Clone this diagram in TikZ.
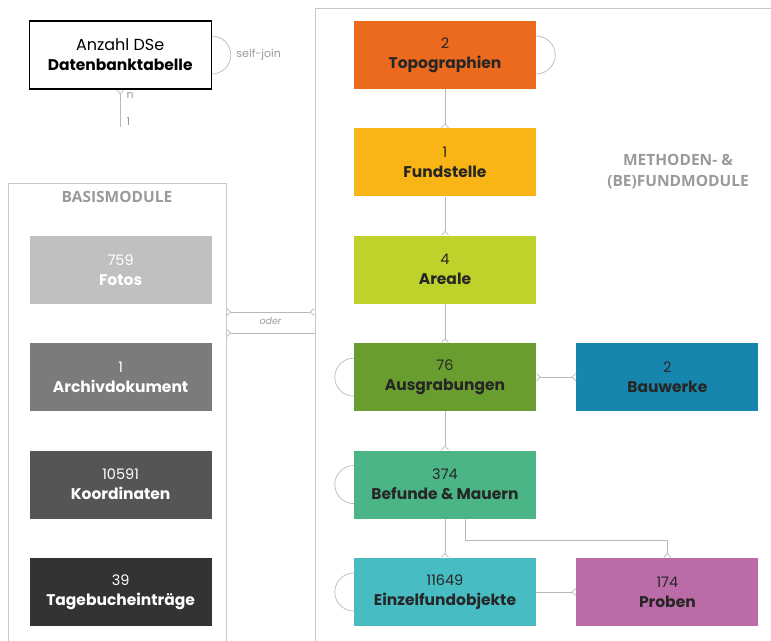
\documentclass[tikz,border=0pt]{standalone}
\usepackage{fontspec}
\setmainfont{Poppins}
\newfontfamily\headfont{Open Sans}
\usetikzlibrary{arrows.meta,positioning}
\definecolor{textdark}{HTML}{262626}
\definecolor{linegray}{HTML}{B8B8B8}
\definecolor{framegray}{HTML}{C8C8C8}
\definecolor{headgray}{HTML}{9A9A9A}
\definecolor{topocol}{HTML}{EC6A1E}
\definecolor{fundcol}{HTML}{F9B515}
\definecolor{arealcol}{HTML}{BED22B}
\definecolor{grabcol}{HTML}{6A9D2F}
\definecolor{baucol}{HTML}{1686AE}
\definecolor{befundcol}{HTML}{4BB586}
\definecolor{einzelcol}{HTML}{48BCC3}
\definecolor{probecol}{HTML}{BB6CA8}
\definecolor{fotocol}{HTML}{C1BFBF}
\definecolor{archivcol}{HTML}{7B7B7B}
\definecolor{koordcol}{HTML}{555555}
\definecolor{tagecol}{HTML}{333333}
\newcommand{\anzahl}[1]{{\fontsize{14.5}{20}\selectfont #1}}
\newcommand{\tabelle}[1]{{\fontsize{15.5}{20}\selectfont\bfseries #1}}
\tikzset{
	modul/.style={minimum width=182pt, minimum height=68pt, inner sep=0pt, align=center,
		text=textdark, font=\fontsize{15}{20}\selectfont},
	grey modul/.style={modul, text=white},
	container/.style={draw=framegray, line width=0.8pt, inner sep=0pt},
	link/.style={draw=linegray, line width=0.7pt},
	crowend/.style={-{Straight Barb[reversed,length=4pt,width=7pt]}},
	crowstart/.style={{Straight Barb[reversed,length=4pt,width=7pt]}-},
	crowboth/.style={{Straight Barb[reversed,length=4pt,width=7pt]}-{Straight Barb[reversed,length=4pt,width=7pt]}},
	heading/.style={font=\headfont\bfseries\fontsize{15.5}{21}\selectfont, text=headgray, align=center},
	small label/.style={font=\fontsize{11}{13}\selectfont, text=headgray},
}

\begin{document}
\begin{tikzpicture}[x=1pt, y=-1pt, node distance=39pt]
	\useasboundingbox (0,0) rectangle (771,640);
	\clip (0,0) rectangle (771,640);
	% module frames
	\node[container, minimum width=218pt, minimum height=517pt] (basis) at (117,441.5) {};
	\node[container, minimum width=475pt, minimum height=692pt] (methoden) at (552.5,354) {};
	\node[heading] (basistitel) at (117,197) {BASISMODULE};
	\node[heading] (methodentitel) at (678,172) {METHODEN- \&\\(BE)FUNDMODULE};
	% methods and findings
	\node[modul, fill=topocol] (topo) at (445,55) {\anzahl{2}\\\tabelle{Topographien}};
	\node[modul, fill=fundcol, below=of topo] (fund) {\anzahl{1}\\\tabelle{Fundstelle}};
	\node[modul, fill=arealcol, below=of fund] (areal) {\anzahl{4}\\\tabelle{Areale}};
	\node[modul, fill=grabcol, below=of areal] (grabung) {\anzahl{76}\\\tabelle{Ausgrabungen}};
	\node[modul, fill=baucol, right=40pt of grabung] (bau) {\anzahl{2}\\\tabelle{Bauwerke}};
	\node[modul, fill=befundcol, below=of grabung] (befund) {\anzahl{374}\\\tabelle{Befunde \& Mauern}};
	\node[modul, fill=einzelcol, below=of befund] (einzel) {\anzahl{11649}\\\tabelle{Einzelfundobjekte}};
	\node[modul, fill=probecol, right=40pt of einzel] (probe) {\anzahl{174}\\\tabelle{Proben}};
	% base modules
	\node[grey modul, fill=fotocol, left=142pt of areal] (foto) {\anzahl{759}\\\tabelle{Fotos}};
	\node[grey modul, fill=archivcol, below=of foto] (archiv) {\anzahl{1}\\\tabelle{Archivdokument}};
	\node[grey modul, fill=koordcol, below=of archiv] (koord) {\anzahl{10591}\\\tabelle{Koordinaten}};
	\node[grey modul, fill=tagecol, below=of koord] (tage) {\anzahl{39}\\\tabelle{Tagebucheinträge}};
	% legend
	\node[modul, fill=white, draw=black, line width=1.2pt, text=black, left=142pt of topo] (legende)
		{{\fontsize{16}{20}\selectfont Anzahl DSe}\\\tabelle{Datenbanktabelle}};
	\draw[link] ([yshift=19pt]legende.east) arc[start angle=90, end angle=-90, radius=19pt]
		node[small label, midway, right=2pt] (selfjoin) {self-join};
	\coordinate (legendefuss) at (legende.south |- 0,127);
	\draw[link, crowstart] (legende.south) -- (legendefuss);
	\node[small label, anchor=west] (n) at ([xshift=3pt, yshift=-6pt]legende.south) {n};
	\node[small label, anchor=west] (eins) at ([xshift=3pt, yshift=5pt]legendefuss) {1};
	% relations
	\draw[link, crowend] (topo) -- (fund);
	\draw[link, crowend] (fund) -- (areal);
	\draw[link, crowend] (areal) -- (grabung);
	\draw[link, crowend] (grabung) -- (befund);
	\draw[link, crowend] (befund) -- (einzel);
	\draw[link, crowboth] (grabung) -- (bau);
	\draw[link, crowend] (einzel) -- (probe);
	\draw[link, crowend] ([xshift=20pt]befund.south) -- ++(0,22) -| (probe.north);
	\draw[link] ([yshift=19pt]topo.east) arc[start angle=90, end angle=-90, radius=19pt];
	\foreach \modul in {grabung, befund, einzel}
		\draw[link] ([yshift=19pt]\modul.west) arc[start angle=90, end angle=270, radius=19pt];
	% between the frames
	\coordinate (oderoben) at (0,312);
	\coordinate (oderunten) at (0,333);
	\draw[link, crowboth] (basis.east |- oderoben) -- (methoden.west |- oderoben)
		node[midway, below=2pt, small label, font=\itshape\fontsize{9.5}{11}\selectfont] (oder) {oder};
	\draw[link, crowstart] (basis.east |- oderunten) -- (methoden.west |- oderunten);
\end{tikzpicture}
\end{document}
